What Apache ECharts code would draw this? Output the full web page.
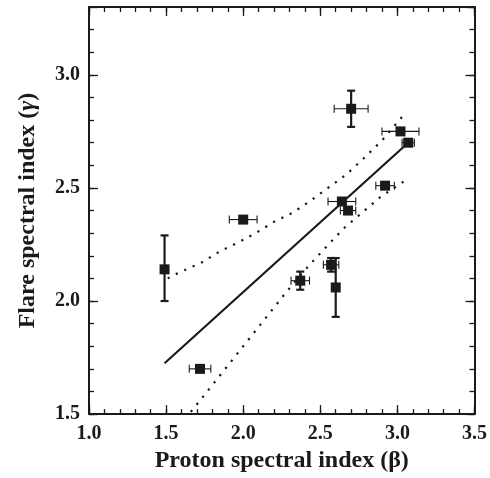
<!DOCTYPE html>
<html>
<head>
    <meta charset="utf-8">
    <script src="https://cdn.jsdelivr.net/npm/echarts@6/dist/echarts.min.js"></script>
</head>
<body style="margin:0">
<div id="main" style="width:490px;height:478px"></div>
<script type="text/javascript">
    // measured points: proton index (beta) vs flare index (gamma)
    var beta     = [1.49, 1.72, 2.00, 2.37, 2.57, 2.60, 2.64, 2.68, 2.70, 2.92, 3.02, 3.07];
    var gamma    = [2.14, 1.70, 2.36, 2.09, 2.16, 2.06, 2.44, 2.40, 2.85, 2.51, 2.75, 2.70];
    var betaLo   = [1.47, 1.65, 1.91, 2.31, 2.52, 2.58, 2.55, 2.63, 2.59, 2.86, 2.90, 3.03];
    var betaHi   = [1.51, 1.79, 2.09, 2.43, 2.62, 2.62, 2.73, 2.73, 2.81, 2.98, 3.14, 3.11];
    var gammaLo  = [2.00, 1.70, 2.36, 2.05, 2.13, 1.93, 2.44, 2.40, 2.77, 2.51, 2.75, 2.70];
    var gammaHi  = [2.29, 1.70, 2.36, 2.13, 2.19, 2.19, 2.44, 2.40, 2.93, 2.51, 2.75, 2.70];

    // regression line and its confidence band
    var fitLine   = [[1.49, 1.725], [3.07, 2.70]];
    var upperBand = [[1.51, 2.10], [1.55, 2.115], [1.73, 2.17], [1.85, 2.22], [1.97, 2.26], [2.08, 2.30],
                     [2.20, 2.35], [2.32, 2.39], [2.43, 2.44], [2.55, 2.50], [2.67, 2.56], [2.78, 2.63],
                     [2.90, 2.71], [3.00, 2.79], [3.05, 2.83]];
    var lowerBand = [[1.66, 1.51], [1.72, 1.56], [1.86, 1.68], [2.00, 1.80], [2.14, 1.92], [2.28, 2.04],
                     [2.43, 2.16], [2.54, 2.24], [2.65, 2.32], [2.77, 2.39], [2.89, 2.46], [3.00, 2.51],
                     [3.065, 2.54]];

    var ink = '#1a1a1a';
    var serif = '"Liberation Serif", "DejaVu Serif", serif';

    var points = beta.map(function (b, i) { return [b, gamma[i]]; });
    var bars = beta.map(function (b, i) {
        return [b, gamma[i], betaLo[i], betaHi[i], gammaLo[i], gammaHi[i]];
    });

    function labelHalf(v) {
        return Math.abs(v * 2 - Math.round(v * 2)) < 1e-6 ? v.toFixed(1) : '';
    }

    var titleStyle = {
        fontFamily: serif, fontWeight: 'bold', fontSize: 24, color: ink,
        rich: { g: { fontFamily: serif, fontWeight: 'bold', fontStyle: 'italic', fontSize: 24, color: ink } }
    };

    // each side gets a fine axis (minor ticks) and a coarse one (major ticks)
    function xAx(pos, step, len, labels, line) {
        return {
            type: 'value', position: pos, min: 1.0, max: 3.5, interval: step,
            name: labels ? 'Proton spectral index (\u03b2)' : '',
            nameLocation: 'middle', nameGap: 33,
            nameTextStyle: titleStyle,
            axisLine: { show: line, lineStyle: { color: ink, width: 2 } },
            axisTick: { show: true, inside: true, length: len, lineStyle: { color: ink, width: 1.3 } },
            axisLabel: { show: labels, formatter: labelHalf, margin: 10,
                         fontFamily: serif, fontWeight: 'bold', fontSize: 20, color: ink },
            splitLine: { show: false }
        };
    }
    function yAx(pos, step, len, labels, line) {
        return {
            type: 'value', position: pos, min: 1.5, max: 3.3, interval: step,
            name: labels ? 'Flare spectral index ({g|\u03b3})' : '',
            nameLocation: 'middle', nameGap: 49,
            nameTextStyle: titleStyle,
            axisLine: { show: line, lineStyle: { color: ink, width: 2 } },
            axisTick: { show: true, inside: true, length: len, lineStyle: { color: ink, width: 1.3 } },
            axisLabel: { show: labels, formatter: labelHalf, margin: 9, showMaxLabel: false,
                         fontFamily: serif, fontWeight: 'bold', fontSize: 20, color: ink },
            splitLine: { show: false }
        };
    }

    var myChart = echarts.init(document.getElementById('main'));

    option = {
        animation: false,
        backgroundColor: '#fff',
        grid: { left: 89, right: 12, top: 7, bottom: 61 },
        xAxis: [
            xAx('bottom', 0.1, 5, true, true),
            xAx('bottom', 0.5, 9, false, false),
            xAx('top', 0.1, 5, false, true),
            xAx('top', 0.5, 9, false, false)
        ],
        yAxis: [
            yAx('left', 0.1, 5, true, true),
            yAx('left', 0.5, 9, false, false),
            yAx('right', 0.1, 5, false, true),
            yAx('right', 0.5, 9, false, false)
        ],
        series: [
            {
                type: 'line', data: fitLine, symbol: 'none',
                lineStyle: { color: ink, width: 2.2 }
            },
            {
                type: 'line', data: upperBand, symbol: 'none',
                lineStyle: { color: ink, width: 2.2, type: [2.2, 7] }
            },
            {
                type: 'line', data: lowerBand, symbol: 'none',
                lineStyle: { color: ink, width: 2.2, type: [2.2, 7] }
            },
            {
                type: 'custom',
                data: bars,
                renderItem: function (params, api) {
                    var c = api.coord([api.value(0), api.value(1)]);
                    var xl = api.coord([api.value(2), api.value(1)])[0];
                    var xh = api.coord([api.value(3), api.value(1)])[0];
                    var yl = api.coord([api.value(0), api.value(4)])[1];
                    var yh = api.coord([api.value(0), api.value(5)])[1];
                    var kids = [];
                    var thin = { stroke: ink, lineWidth: 1.1 };
                    var thick = { stroke: ink, lineWidth: 2.2 };
                    if (xh - xl > 1) {
                        kids.push({ type: 'line', shape: { x1: xl, y1: c[1], x2: xh, y2: c[1] }, style: thin });
                        kids.push({ type: 'line', shape: { x1: xl, y1: c[1] - 4, x2: xl, y2: c[1] + 4 }, style: thin });
                        kids.push({ type: 'line', shape: { x1: xh, y1: c[1] - 4, x2: xh, y2: c[1] + 4 }, style: thin });
                    }
                    if (yl - yh > 1) {
                        kids.push({ type: 'line', shape: { x1: c[0], y1: yl, x2: c[0], y2: yh }, style: thick });
                        kids.push({ type: 'line', shape: { x1: c[0] - 4, y1: yl, x2: c[0] + 4, y2: yl }, style: thick });
                        kids.push({ type: 'line', shape: { x1: c[0] - 4, y1: yh, x2: c[0] + 4, y2: yh }, style: thick });
                    }
                    return { type: 'group', children: kids };
                },
                z: 3
            },
            {
                type: 'scatter', data: points, symbol: 'rect', symbolSize: 10,
                itemStyle: { color: ink, opacity: 1 }, z: 4
            }
        ]
    };

    myChart.setOption(option);
</script>
</body>
</html>
